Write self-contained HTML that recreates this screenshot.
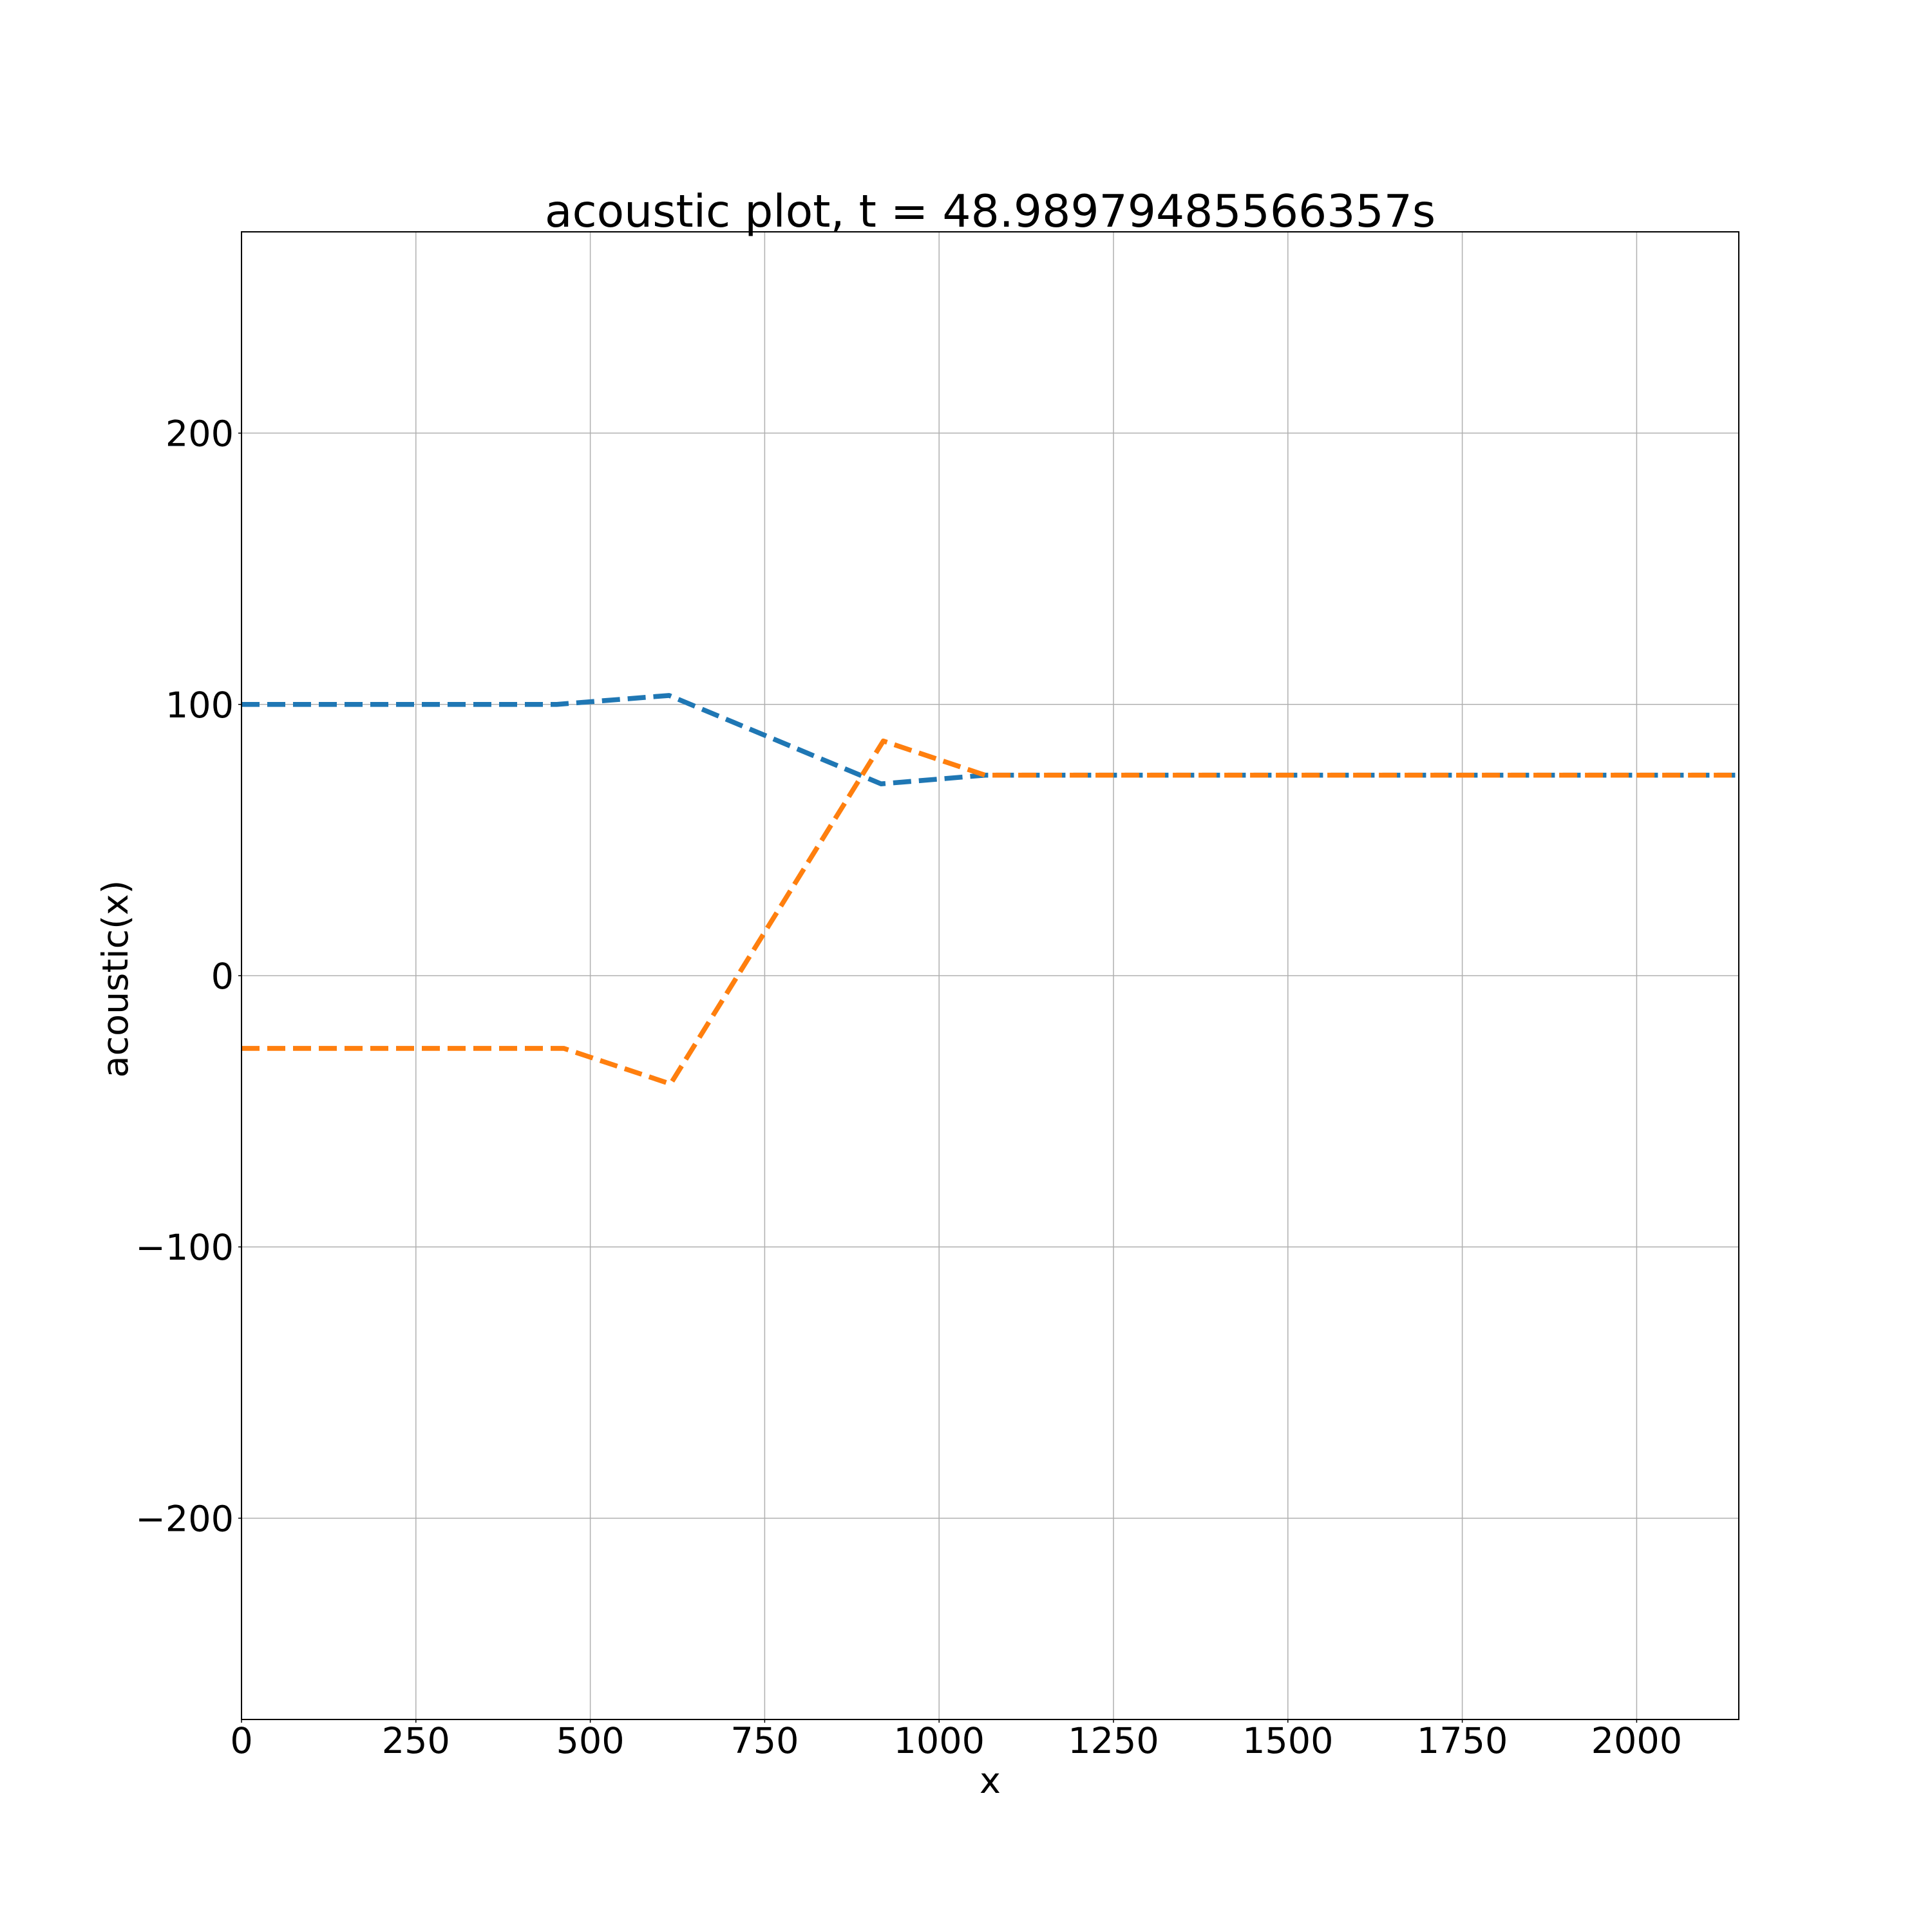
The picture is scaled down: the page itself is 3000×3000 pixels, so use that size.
<!DOCTYPE html>
<html><head><meta charset="utf-8"><style>
html,body{margin:0;padding:0;background:#fff;}
svg{display:block;}
text{font-family:"DejaVu Sans","Liberation Sans",sans-serif;fill:#000;}
</style></head><body>
<svg id="chart" width="3000" height="3000" viewBox="0 0 3000 3000" xmlns="http://www.w3.org/2000/svg">
<rect width="3000" height="3000" fill="#fff"/>
<g id="grid"></g>
<g id="series"></g>
<rect x="375" y="360" width="2325" height="2310" fill="none" stroke="#000" stroke-width="2"/>
<g id="ticks"></g>
<text x="1537.5" y="352" font-size="69.5" text-anchor="middle">acoustic plot, t = 48.98979485566357s</text>
<text x="1537.5" y="2784" font-size="55.6" text-anchor="middle">x</text>
<text x="0" y="0" font-size="55.6" text-anchor="middle" transform="translate(198,1520) rotate(-90)">acoustic(x)</text>
</svg>
<script>
const xTicks = [0, 250, 500, 750, 1000, 1250, 1500, 1750, 2000];
const yTicks = [-200, -100, 0, 100, 200];
const yTickLabels = ["\u2212200", "\u2212100", "0", "100", "200"];
const blueX = [0, 452, 613, 917, 1066, 2146];
const blueY = [100, 100, 103.3, 70.7, 73.9, 73.9];
const orangeX = [0, 462, 615, 920, 1066, 2146];
const orangeY = [-26.8, -26.8, -39.9, 86.5, 73.9, 73.9];

const L = 375, R = 2700, T = 360, B = 2670;
const XMIN = 0, XMAX = 2146.4, YMIN = -274.2, YMAX = 274.2;
const sx = v => L + (v - XMIN) / (XMAX - XMIN) * (R - L);
const sy = v => B - (v - YMIN) / (YMAX - YMIN) * (B - T);
const NS = "http://www.w3.org/2000/svg";
const grid = document.getElementById('grid');
const ticks = document.getElementById('ticks');
const series = document.getElementById('series');
function mk(tag, attrs, parent) {
  const e = document.createElementNS(NS, tag);
  for (const k in attrs) e.setAttribute(k, attrs[k]);
  parent.appendChild(e);
  return e;
}
xTicks.forEach(v => {
  const x = sx(v);
  const g = mk('line', {x1: x, x2: x, y1: T, y2: B, stroke: '#b0b0b0', 'stroke-width': 1.5}, grid);
  
  
  const t = mk('line', {x1: x, x2: x, y1: B, y2: B + 5, stroke: '#000', 'stroke-width': 1.5}, ticks);
  
  
  const lb = mk('text', {x: x, y: B + 52, 'font-size': 55.6, 'text-anchor': 'middle'}, ticks);
  lb.textContent = String(v);
  
  
});
yTicks.forEach((v, i) => {
  const y = sy(v);
  const g = mk('line', {x1: L, x2: R, y1: y, y2: y, stroke: '#b0b0b0', 'stroke-width': 1.5}, grid);
  
  
  const t = mk('line', {x1: L - 5, x2: L, y1: y, y2: y, stroke: '#000', 'stroke-width': 1.5}, ticks);
  
  
  const lb = mk('text', {x: L - 12, y: y + 20, 'font-size': 55.6, 'text-anchor': 'end'}, ticks);
  lb.textContent = yTickLabels[i];
  
  
});
function line(xs, ys, color) {
  const pts = xs.map((x, i) => sx(x).toFixed(1) + ',' + sy(ys[i]).toFixed(1)).join(' ');
  return mk('polyline', {points: pts, fill: 'none', stroke: color, 'stroke-width': 7.6, 'stroke-dasharray': '28 12', 'stroke-linejoin': 'round'}, series);
}
const b = line(blueX, blueY, '#1f77b4');


const o = line(orangeX, orangeY, '#ff7f0e');


</script>
</body></html>
